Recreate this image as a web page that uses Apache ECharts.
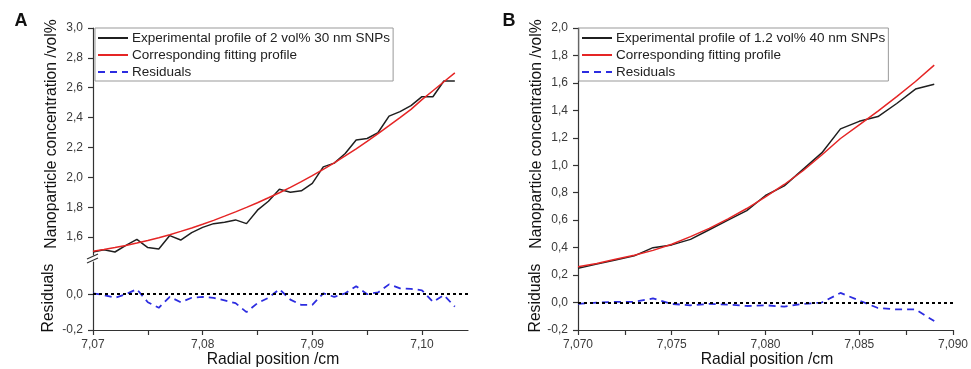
<!DOCTYPE html>
<html>
<head>
<meta charset="utf-8">
<script src="https://cdn.jsdelivr.net/npm/echarts@6/dist/echarts.min.js"></script>
<style>
  html, body { margin: 0; padding: 0; background: #fff; }
  #chart { width: 971px; height: 369px; }
</style>
</head>
<body>
<div id="chart"></div>
<script>
// Panel A: 2 vol% 30 nm SNPs
const radialA = [7.070, 7.071, 7.072, 7.073, 7.074, 7.075, 7.076, 7.077, 7.078, 7.079,
                 7.080, 7.081, 7.082, 7.083, 7.084, 7.085, 7.086, 7.087, 7.088, 7.089,
                 7.090, 7.091, 7.092, 7.093, 7.094, 7.095, 7.096, 7.097, 7.098, 7.099,
                 7.100, 7.101, 7.102, 7.103];
const expA = [1.50, 1.515, 1.50, 1.545, 1.585, 1.53, 1.52, 1.61, 1.58, 1.63,
              1.665, 1.69, 1.70, 1.715, 1.69, 1.78, 1.84, 1.92, 1.90, 1.91,
              1.96, 2.07, 2.095, 2.16, 2.25, 2.26, 2.30, 2.41, 2.44, 2.48,
              2.54, 2.54, 2.645, 2.645];
const fitA = [1.505, 1.517, 1.530, 1.544, 1.560, 1.577, 1.596, 1.616, 1.638, 1.661,
              1.686, 1.712, 1.740, 1.769, 1.799, 1.830, 1.863, 1.897, 1.933, 1.971,
              2.011, 2.053, 2.097, 2.143, 2.191, 2.241, 2.293, 2.346, 2.400, 2.455,
              2.52, 2.58, 2.64, 2.70];
const resA = [0.005, -0.005, -0.02, 0.0, 0.028, -0.045, -0.076, -0.015, -0.045, -0.02,
              -0.015, -0.02, -0.035, -0.05, -0.10, -0.05, -0.02, 0.028, -0.03, -0.06,
              -0.06, 0.005, -0.015, 0.005, 0.045, 0.0, 0.01, 0.055, 0.033, 0.03,
              0.022, -0.043, -0.005, -0.07];

// Panel B: 1.2 vol% 40 nm SNPs
const radialB = [7.070, 7.071, 7.072, 7.073, 7.074, 7.075, 7.076, 7.077, 7.078, 7.079,
                 7.080, 7.081, 7.082, 7.083, 7.084, 7.085, 7.086, 7.087, 7.088, 7.089];
const expB = [0.25, 0.28, 0.31, 0.34, 0.40, 0.42, 0.46, 0.53, 0.60, 0.67,
              0.78, 0.85, 0.97, 1.09, 1.265, 1.32, 1.355, 1.45, 1.555, 1.59];
const fitB = [0.26, 0.285, 0.315, 0.345, 0.38, 0.425, 0.48, 0.54, 0.61, 0.685,
              0.77, 0.86, 0.96, 1.075, 1.195, 1.295, 1.395, 1.50, 1.61, 1.73];
const resB = [-0.01, 0.0, 0.005, 0.005, 0.03, -0.01, -0.02, -0.01, -0.015, -0.025,
              -0.02, -0.03, -0.01, 0.0, 0.07, 0.015, -0.04, -0.05, -0.05, -0.135];

// Tick positions
const xTicksA = [7.07, 7.08, 7.09, 7.10];
const xMinorA = [7.07, 7.075, 7.08, 7.085, 7.09, 7.095, 7.10];
const yTicksA = [1.6, 1.8, 2.0, 2.2, 2.4, 2.6, 2.8, 3.0];
const resTicksA = [-0.2, 0.0];
const xTicksB = [7.070, 7.075, 7.080, 7.085, 7.090];
const xMinorB = [7.070, 7.0725, 7.075, 7.0775, 7.080, 7.0825, 7.085, 7.0875, 7.090];

// Text
const nameExpA = 'Experimental profile of 2 vol% 30 nm SNPs';
const nameExpB = 'Experimental profile of 1.2 vol% 40 nm SNPs';
const nameFit = 'Corresponding fitting profile';
const nameRes = 'Residuals';
const yTitle = 'Nanoparticle concentration /vol%';
const xTitle = 'Radial position /cm';

const FONT = "'Liberation Sans', Arial, sans-serif";
const AXIS_COLOR = '#333';
const comma = d => v => Number(v).toFixed(d).replace('.', ',');
const zip = (xs, ys) => xs.map((x, i) => [x, ys[i]]);

function xAxisCfg(gridIndex, min, max, labels, ticks, digits, show) {
  return {
    type: 'value', gridIndex, min, max, show,
    axisLine: { show: true, onZero: false, lineStyle: { color: AXIS_COLOR, width: 1.2 } },
    axisTick: { show: true, inside: false, length: 5, customValues: ticks,
                lineStyle: { color: AXIS_COLOR, width: 1.2 } },
    axisLabel: { customValues: labels, formatter: comma(digits), color: '#3a3a3a',
                 fontSize: 12, fontFamily: FONT, margin: 9 },
    splitLine: { show: false }
  };
}
function yAxisCfg(gridIndex, min, max, ticks, digits) {
  return {
    type: 'value', gridIndex, min, max,
    axisLine: { show: true, onZero: false, lineStyle: { color: AXIS_COLOR, width: 1.2 } },
    axisTick: { show: true, inside: false, length: 5, customValues: ticks,
                lineStyle: { color: AXIS_COLOR, width: 1.2 } },
    axisLabel: { customValues: ticks, formatter: comma(digits), color: '#3a3a3a',
                 fontSize: 12, fontFamily: FONT, margin: 10 },
    splitLine: { show: false }
  };
}

const expStyle = { color: '#1f1f1f', width: 1.5 };
const fitStyle = { color: '#e52525', width: 1.5 };
const resStyle = { color: '#2c2ce0', width: 1.8, type: [7, 5] };
const zeroLine = {
  silent: true, symbol: 'none', label: { show: false },
  lineStyle: { color: '#000', width: 1.8, type: [3, 3] },
  data: [{ yAxis: 0 }]
};

function lineSeries(name, xi, yi, data, style, extra) {
  return Object.assign({
    type: 'line', name, xAxisIndex: xi, yAxisIndex: yi, data,
    symbol: 'none', showSymbol: false, lineStyle: style, itemStyle: { color: style.color },
    animation: false, z: 3
  }, extra || {});
}

function legendCfg(left, names) {
  return {
    orient: 'vertical', left, top: 28, data: names,
    itemWidth: 30, itemHeight: 12, itemGap: 1,
    padding: [2, 3, 1, 2],
    borderColor: '#999', borderWidth: 1, backgroundColor: '#fff',
    selectedMode: false,
    itemStyle: { opacity: 0 },
    textStyle: { fontSize: 13.5, fontFamily: FONT, color: '#222', lineHeight: 16, padding: [0, 0, 0, -1] }
  };
}

function title(text, x, y, rotate, size, weight) {
  return {
    type: 'text', x, y, rotation: rotate ? Math.PI / 2 : 0, silent: true,
    style: { text, fill: '#111', font: (weight || 'normal') + ' ' + size + 'px ' + FONT,
             textAlign: 'center', textVerticalAlign: 'middle' }
  };
}

const chart = echarts.init(document.getElementById('chart'), null, { renderer: 'canvas' });
chart.setOption({
  animation: false,
  backgroundColor: '#fff',
  grid: [
    { left: 93, top: 28, width: 375, height: 227 },
    { left: 93, top: 262, width: 375, height: 68 },
    { left: 578, top: 28, width: 375, height: 302 }
  ],
  xAxis: [
    xAxisCfg(0, 7.07, 7.1042, xTicksA, xMinorA, 2, false),
    xAxisCfg(1, 7.07, 7.1042, xTicksA, xMinorA, 2, true),
    xAxisCfg(2, 7.07, 7.09, xTicksB, xMinorB, 3, true)
  ],
  yAxis: [
    yAxisCfg(0, 1.48, 3.0, yTicksA, 1),
    yAxisCfg(1, -0.2, 0.18, resTicksA, 1),
    Object.assign(yAxisCfg(2, -0.2, 2.0, null, 1), { interval: 0.2 })
  ],
  legend: [
    legendCfg(95, [nameExpA, nameFit, nameRes]),
    legendCfg(579, [nameExpB, nameFit, nameRes])
  ],
  series: [
    lineSeries(nameExpA, 0, 0, zip(radialA, expA), expStyle),
    lineSeries(nameFit, 0, 0, zip(radialA, fitA), fitStyle, { z: 4 }),
    lineSeries(nameRes, 1, 1, zip(radialA, resA), resStyle, { markLine: zeroLine }),
    lineSeries(nameExpB, 2, 2, zip(radialB, expB), expStyle),
    lineSeries(nameFit, 2, 2, zip(radialB, fitB), fitStyle, { z: 4 }),
    lineSeries(nameRes, 2, 2, zip(radialB, resB), resStyle, { markLine: zeroLine })
  ],
  graphic: [
    title('A', 21, 21, false, 18, 'bold'),
    title('B', 509, 21, false, 18, 'bold'),
    title(yTitle, 52, 134, true, 15.7),
    title(nameRes, 49, 298, true, 15.7),
    title(xTitle, 273, 360, false, 15.7),
    title(yTitle, 537, 134, true, 15.7),
    title(nameRes, 536, 298, true, 15.7),
    title(xTitle, 767, 360, false, 15.7),
    // axis break marks on the left axis of panel A
    { type: 'line', silent: true, shape: { x1: 87, y1: 259, x2: 98, y2: 254 },
      style: { stroke: AXIS_COLOR, lineWidth: 1.2 } },
    { type: 'line', silent: true, shape: { x1: 87, y1: 263, x2: 98, y2: 258 },
      style: { stroke: AXIS_COLOR, lineWidth: 1.2 } }
  ]
});
</script>
</body>
</html>
